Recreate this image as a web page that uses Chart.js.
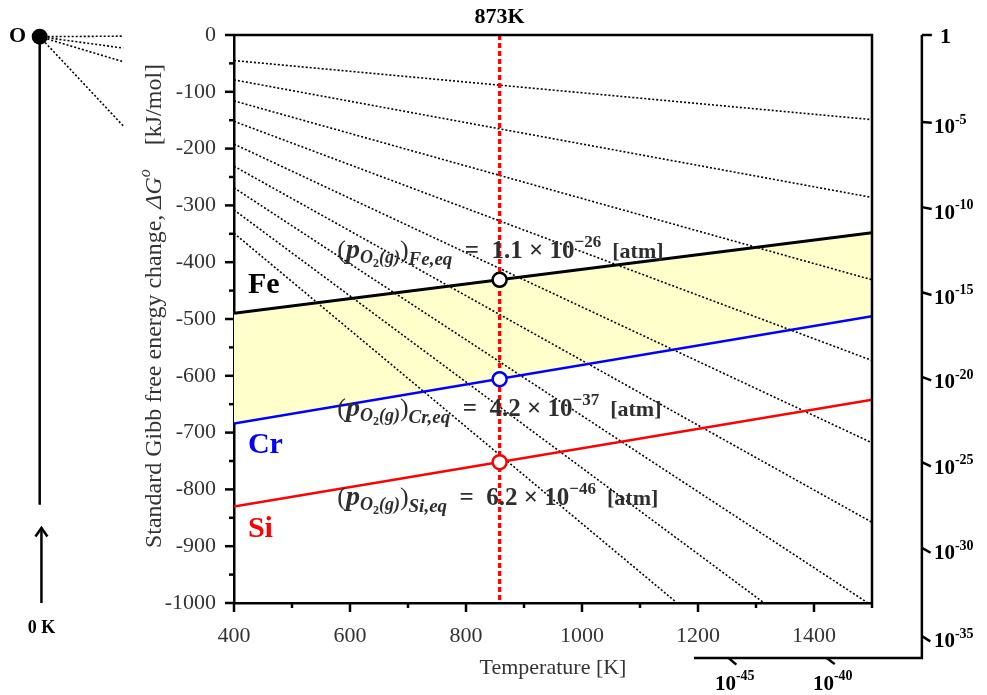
<!DOCTYPE html>
<html>
<head>
<meta charset="utf-8">
<script src="https://cdn.jsdelivr.net/npm/chart.js@4.4.0/dist/chart.umd.min.js"></script>
<style>
  html, body { margin: 0; padding: 0; background: #fff; }
  #wrap { width: 987px; height: 695px; }
</style>
</head>
<body>
<div id="wrap"><canvas id="chart"></canvas></div>
<script>
// oxide lines (kJ/mol) at the two ends of the temperature range
const temps = [400, 1500];
const feDG = [-490, -348];
const crDG = [-684, -495];
const siDG = [-830, -642];

// equilibrium points at the marked temperature
const markT = 858;
const markDG = [-431, -606, -752];
const markColors = ["#000000", "#0000ff", "#ff0000"];
const eqMetals = ["Fe", "Cr", "Si"];
const eqMantissa = ["1.1", "4.2", "6.2"];
const eqExp = ["\u221226", "\u221237", "\u221246"];

// pO2 iso-lines: value at 400 K and where each one ends
const po2StartDG = [-45, -79, -116, -152, -192, -231, -269, -308, -349];
const po2EndT = [1500, 1500, 1500, 1500, 1500, 1500, 1493, 1314, 1164];
const po2EndDG = [-149, -286, -431, -573, -718, -858, -1000, -1000, -1000];

// pO2 nomogram scale
const rightTickExp = [0, -5, -10, -15, -20, -25, -30, -35];
const rightTickDG = [0, -153, -303, -453, -602, -752, -903, -1058];
const bottomTickExp = [-45, -40];
const bottomTickT = [1253, 1422];

const SERIF = '"Liberation Serif", "Times New Roman", serif';
const pts = (xs, ys) => xs.map((x, i) => ({ x: x, y: ys[i] }));

const datasets = [
  {
    label: "Fe", data: pts(temps, feDG), borderColor: "#000", borderWidth: 3,
    fill: "+1", backgroundColor: "#ffffcc", pointRadius: 0, order: 2,
  },
  { label: "Cr", data: pts(temps, crDG), borderColor: "#0000ff", borderWidth: 2.5, pointRadius: 0, order: 2 },
  { label: "Si", data: pts(temps, siDG), borderColor: "#ff0000", borderWidth: 2.5, pointRadius: 0, order: 2 },
];
po2StartDG.forEach((v, i) => {
  datasets.push({
    label: "pO2 " + i,
    data: [{ x: 400, y: v }, { x: po2EndT[i], y: po2EndDG[i] }],
    borderColor: "#000", borderWidth: 1.6, borderDash: [2, 2], pointRadius: 0, order: 3,
  });
});
datasets.push({
  label: "873K", data: [{ x: markT, y: 0 }, { x: markT, y: -1000 }],
  borderColor: "#ff0000", borderWidth: 3.2, borderDash: [5, 3], pointRadius: 0, order: 1,
});
datasets.push({
  label: "eq", data: markDG.map((v) => ({ x: markT, y: v })), showLine: false,
  pointRadius: 7, pointBackgroundColor: "#fff", pointBorderColor: markColors, pointBorderWidth: 2.5, order: 0,
});

function drawRich(ctx, x, y, parts) {
  let cx = x;
  parts.forEach((p) => {
    ctx.font = p.f;
    ctx.fillText(p.t, cx, y + (p.dy || 0));
    cx += ctx.measureText(p.t).width + (p.sp || 0);
  });
  return cx - x;
}
function richWidth(ctx, parts) {
  let w = 0;
  parts.forEach((p) => { ctx.font = p.f; w += ctx.measureText(p.t).width + (p.sp || 0); });
  return w;
}

const decor = {
  id: "decor",
  afterDraw(chart) {
    const ctx = chart.ctx;
    const xs = chart.scales.x, ys = chart.scales.y;
    const a = chart.chartArea;
    const X = (v) => xs.getPixelForValue(v), Y = (v) => ys.getPixelForValue(v);
    ctx.save();
    ctx.strokeStyle = "#000";
    ctx.lineCap = "butt";

    // frame top and right
    ctx.lineWidth = 2.5;
    ctx.beginPath();
    ctx.moveTo(a.left, a.top); ctx.lineTo(a.right, a.top); ctx.lineTo(a.right, a.bottom);
    ctx.stroke();

    // tick marks
    ys.ticks.forEach((t) => {
      const len = t.value % 100 === 0 ? 9 : 5;
      const y = Y(t.value);
      ctx.beginPath(); ctx.moveTo(a.left, y); ctx.lineTo(a.left - len, y); ctx.stroke();
    });
    xs.ticks.forEach((t) => {
      const len = t.value % 200 === 0 ? 9 : 5;
      const x = X(t.value);
      ctx.beginPath(); ctx.moveTo(x, a.bottom); ctx.lineTo(x, a.bottom + len); ctx.stroke();
    });

    // y title
    ctx.fillStyle = "#333";
    ctx.textBaseline = "middle";
    const yTitle = [
      { t: "Standard Gibb free energy change, ", f: "24px " + SERIF },
      { t: "\u0394G", f: "italic 24px " + SERIF },
      { t: "o", f: "italic 16px " + SERIF, dy: -9 },
      { t: "    [kJ/mol]", f: "24px " + SERIF },
    ];
    const tw = richWidth(ctx, yTitle);
    ctx.save();
    ctx.translate(155, 306);
    ctx.rotate(-Math.PI / 2);
    ctx.textAlign = "left";
    drawRich(ctx, -tw / 2, 0, yTitle);
    ctx.restore();

    // 873K label
    ctx.fillStyle = "#000";
    ctx.textAlign = "center";
    ctx.font = "bold 22px " + SERIF;
    ctx.fillText("873K", X(markT), a.top - 18);

    // metal labels
    ctx.textAlign = "left";
    ctx.font = "bold 30px " + SERIF;
    const labDG = [-441, -722, -871];
    eqMetals.forEach((m, i) => {
      ctx.fillStyle = markColors[i];
      ctx.fillText(m, X(424), Y(labDG[i]));
    });

    // equilibrium pressure equations
    ctx.fillStyle = "#2e2e2e";
    ctx.textBaseline = "alphabetic";
    const eqDG = [-393, -671, -828];
    eqMetals.forEach((m, i) => {
      const parts = [
        { t: "(", f: "26px " + SERIF },
        { t: "p", f: "bold italic 28px " + SERIF },
        { t: "O", f: "bold italic 18px " + SERIF, dy: 5 },
        { t: "2", f: "bold 12px " + SERIF, dy: 9 },
        { t: "(g)", f: "bold italic 18px " + SERIF, dy: 5 },
        { t: ")", f: "26px " + SERIF },
        { t: m + ",eq", f: "bold italic 19px " + SERIF, dy: 7 },
        { t: "  =  " + eqMantissa[i] + " \u00d7 10", f: "bold 25px " + SERIF },
        { t: eqExp[i], f: "bold 17px " + SERIF, dy: -11 },
        { t: "  [atm]", f: "bold 22px " + SERIF },
      ];
      drawRich(ctx, X(578), Y(eqDG[i]), parts);
    });

    // pO2 nomogram axis on the right and bottom
    const rT = 1586, bDG = -1097, bT0 = 1193;
    const ox = X(0), oy = Y(0);
    ctx.strokeStyle = "#000";
    ctx.lineWidth = 2.5;
    ctx.beginPath();
    ctx.moveTo(X(rT), Y(0)); ctx.lineTo(X(rT), Y(bDG)); ctx.lineTo(X(bT0), Y(bDG));
    ctx.stroke();
    const tickOut = (px, py) => {
      const dx = px - ox, dy = py - oy, n = Math.hypot(dx, dy);
      ctx.beginPath(); ctx.moveTo(px, py); ctx.lineTo(px + (dx / n) * 10, py + (dy / n) * 10); ctx.stroke();
    };
    ctx.fillStyle = "#000";
    ctx.textBaseline = "middle";
    rightTickDG.forEach((v, i) => {
      const px = X(rT), py = Y(v);
      tickOut(px, py);
      const e = rightTickExp[i];
      if (e === 0) {
        ctx.font = "bold 22px " + SERIF;
        ctx.fillText("1", px + 18, py + 2);
      } else {
        drawRich(ctx, px + 12, py + 6, [
          { t: "10", f: "bold 21px " + SERIF },
          { t: "-" + (-e), f: "bold 14px " + SERIF, dy: -8 },
        ]);
      }
    });
    bottomTickT.forEach((t, i) => {
      const px = X(t), py = Y(bDG);
      tickOut(px, py);
      const parts = [
        { t: "10", f: "bold 21px " + SERIF },
        { t: "-" + (-bottomTickExp[i]), f: "bold 14px " + SERIF, dy: -8 },
      ];
      const w = richWidth(ctx, parts);
      drawRich(ctx, px + 6 - w / 2, py + 26, parts);
    });

    // schematic on the left: O at 0 K
    const oT = 65;
    ctx.lineWidth = 1.6;
    ctx.setLineDash([2, 2]);
    [-2, -23, -47, -160].forEach((v) => {
      ctx.beginPath(); ctx.moveTo(X(oT), Y(-3)); ctx.lineTo(X(209), Y(v)); ctx.stroke();
    });
    ctx.setLineDash([]);
    ctx.lineWidth = 2.5;
    ctx.beginPath(); ctx.moveTo(X(oT), Y(-3)); ctx.lineTo(X(oT), Y(-827)); ctx.stroke();
    ctx.beginPath(); ctx.arc(X(oT), Y(-3), 8, 0, Math.PI * 2); ctx.fill();
    ctx.font = "bold 22px " + SERIF;
    ctx.textAlign = "center";
    ctx.fillText("O", X(27), Y(-3));
    // arrow up from 0 K
    const ax = X(68);
    ctx.beginPath(); ctx.moveTo(ax, Y(-1000)); ctx.lineTo(ax, Y(-870)); ctx.stroke();
    ctx.beginPath();
    ctx.moveTo(ax - 6, Y(-883)); ctx.lineTo(ax, Y(-868)); ctx.lineTo(ax + 6, Y(-883));
    ctx.stroke();
    ctx.font = "bold 18px " + SERIF;
    ctx.fillText("0 K", ax, Y(-1044));

    ctx.restore();
  },
};

new Chart(document.getElementById("chart"), {
  type: "line",
  data: { datasets: datasets },
  plugins: [decor],
  options: {
    responsive: true,
    maintainAspectRatio: false,
    animation: false,
    layout: { padding: { left: 140, right: 115, top: 35, bottom: 14 } },
    plugins: {
      legend: { display: false },
      tooltip: { enabled: false },
      filler: { drawTime: "beforeDatasetsDraw" },
    },
    elements: { line: { tension: 0 } },
    scales: {
      x: {
        type: "linear", min: 400, max: 1500,
        afterFit(s) { s.height = 78; },
        grid: { display: false },
        border: { display: true, color: "#000", width: 2.5 },
        ticks: {
          stepSize: 100, autoSkip: false, maxRotation: 0, padding: 12,
          color: "#333", font: { family: SERIF, size: 22 },
          callback: (v) => (v % 200 === 0 ? String(v) : ""),
        },
        title: {
          display: true, text: "Temperature [K]", color: "#333",
          font: { family: SERIF, size: 22 }, padding: { top: 0, bottom: 0 },
        },
      },
      y: {
        type: "linear", min: -1000, max: 0,
        afterFit(s) { s.width = 94; },
        grid: { display: false },
        border: { display: true, color: "#000", width: 2.5 },
        ticks: {
          stepSize: 50, autoSkip: false, padding: 10,
          color: "#333", font: { family: SERIF, size: 22 },
          callback: (v) => (v % 100 === 0 ? String(v) : ""),
        },
      },
    },
  },
});
</script>
</body>
</html>
